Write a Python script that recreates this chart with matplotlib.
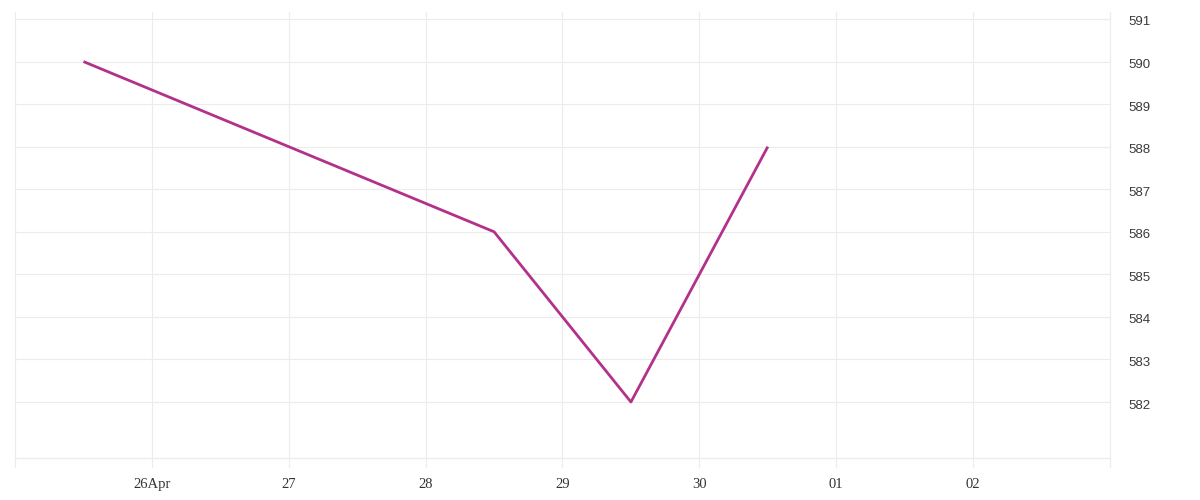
import matplotlib
matplotlib.use("Agg")
import matplotlib.pyplot as plt
import matplotlib.dates as mdates
import matplotlib.transforms as mtransforms
from datetime import datetime, timedelta

# data
times = [datetime(2024, 4, 25, 12), datetime(2024, 4, 28, 12),
         datetime(2024, 4, 29, 12), datetime(2024, 4, 30, 12)]
values = [590, 586, 582, 588]

tick_days = [datetime(2024, 4, 25) + timedelta(days=i) for i in range(9)]
tick_labels = ["", "26Apr", "27", "28", "29", "30", "01", "02", ""]
y_ticks = [582, 583, 584, 585, 586, 587, 588, 589, 590, 591]

grid_col = "#ececec"
line_col = "#b3318a"

fig = plt.figure(figsize=(12, 5), dpi=100)
# axes in pixels: left 10, right 1115, top 12, bottom 468
ax = fig.add_axes([10 / 1200, 32 / 500, 1105 / 1200, 456 / 500])

px_day = 136.9
x0 = mdates.date2num(datetime(2024, 4, 25)) - 5 / px_day
x1 = mdates.date2num(datetime(2024, 5, 3)) + 5 / px_day
ax.set_xlim(x0, x1)
px_unit = 42.56
ax.set_ylim(582 - 66 / px_unit, 591 + 7 / px_unit)

for d in tick_days:
    ax.axvline(d, color=grid_col, lw=0.8, zorder=0)
for v in y_ticks:
    ax.plot([tick_days[0], tick_days[-1]], [v, v], color=grid_col, lw=0.8, zorder=0)
ax.plot([tick_days[0], tick_days[-1]], [582 - 56 / px_unit] * 2, color=grid_col, lw=1.0, zorder=0)

ax.plot(times, values, color=line_col, lw=2, solid_capstyle="butt", zorder=3)

ax.set_xticks(tick_days)
ax.set_xticklabels(tick_labels, family="Liberation Serif", fontsize=10.5, color="#333333")
ax.tick_params(axis="x", length=0, pad=7)

ax.yaxis.tick_right()
ax.set_yticks(y_ticks)
ax.set_yticklabels([str(v) for v in y_ticks], family="Liberation Sans", fontsize=9.5, color="#3a3a3a")
ax.tick_params(axis="y", length=0, pad=10)
shift = mtransforms.ScaledTranslation(0, -2 / 100, fig.dpi_scale_trans)
for lab in ax.get_yticklabels():
    lab.set_transform(lab.get_transform() + shift)

for s in ax.spines.values():
    s.set_visible(False)

fig.savefig("out.png", dpi=100, facecolor="white")
